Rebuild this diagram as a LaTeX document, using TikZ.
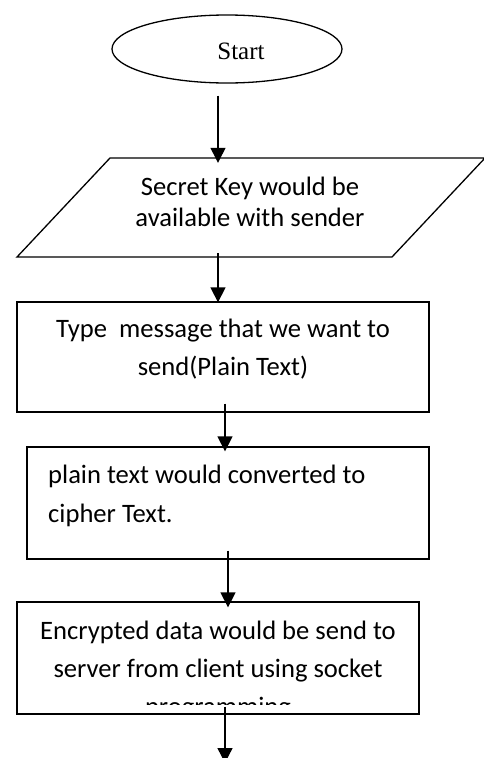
\documentclass[tikz,border=0pt]{standalone}
\usepackage{fontspec}
\newfontfamily\calib{Carlito}
\newfontfamily\timesr{Liberation Serif}
\usetikzlibrary{arrows.meta,shapes.geometric}
\tikzset{
  line/.style={line width=1.3pt},
  arr/.style={line width=1.3pt,-{Triangle[length=15pt,width=15pt]}},
  boxshape/.style={draw,line width=1.3pt,rectangle,inner sep=0pt},
  ghost/.style={rectangle,inner sep=0pt},
  txt/.style={font=\calib\fontsize{26.6}{32}\selectfont,inner sep=0pt,anchor=base},
  txtl/.style={font=\calib\fontsize{26.6}{32}\selectfont,inner sep=0pt,anchor=base west},
  stxt/.style={font=\timesr\fontsize{25}{30}\selectfont,inner sep=0pt,anchor=base}
}
\begin{document}
\begin{tikzpicture}[x=1pt,y=-1pt]
\useasboundingbox[fill=white] (0,0) rectangle (484,758);
% start
\node[draw,ellipse,line width=1.3pt,minimum width=230pt,minimum height=68pt,inner sep=0pt] (start) at (227,49) {};
\node[stxt] (starttxt) at (241,59) {Start};
% parallelogram
\node[ghost,minimum width=467pt,minimum height=99pt] (key) at (250.5,207.5) {};
\draw[line,line join=miter] (17,257) -- (110,158) -- (485,158) -- (392,257) -- cycle;
\node[txt] (keyA) at (250,195) {Secret Key would be};
\node[txt] (keyB) at (250,226) {available with sender};
% box 1
\node[boxshape,minimum width=412pt,minimum height=110pt] (type) at (223,357) {};
\node[txt] (typeA) at (223,337) {Type\ \ message that we want to};
\node[txt] (typeB) at (223,375) {send(Plain Text)};
% box 2
\node[boxshape,minimum width=402pt,minimum height=112pt] (conv) at (228,503) {};
\node[txtl] (convA) at (48,483) {plain text would converted to};
\node[txtl] (convB) at (48,522) {cipher Text.};
% box 3
\node[txt] (encA) at (218,639) {Encrypted data would be send to};
\node[txt] (encB) at (218,677) {server from client using socket};
\begin{scope}
\clip (17,690) rectangle (419,704.5);
\node[txt] (encC) at (218,715) {programming};
\end{scope}
\node[boxshape,minimum width=402pt,minimum height=112pt] (enc) at (218,658) {};
\coordinate (endpt) at (225,763);
% arrows
\draw[arr] ([xshift=-9pt,yshift=-12pt]start.south) -- ([xshift=-32.5pt,yshift=-5pt]key.north);
\draw[arr] ([xshift=-32.5pt,yshift=4pt]key.south) -- ([xshift=-5pt,yshift=-1pt]type.north);
\draw[arr] ([xshift=2pt,yshift=9pt]type.south) -- ([xshift=-3pt,yshift=-5pt]conv.north);
\draw[arr] ([yshift=9pt]conv.south) -- ([xshift=10pt,yshift=-6pt]enc.north);
\draw[arr] ([xshift=7pt,yshift=8pt]enc.south) -- (endpt);
\end{tikzpicture}
\end{document}
